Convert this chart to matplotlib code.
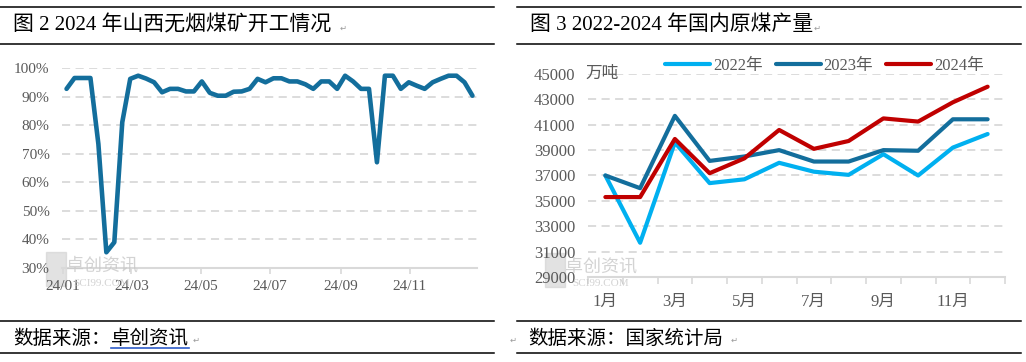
import numpy as np
import pandas as pd
import matplotlib.pyplot as plt
from matplotlib.lines import Line2D

plt.rcParams['font.family'] = ['Liberation Serif', 'Noto Sans CJK SC', 'DejaVu Sans']

W, H = 1026, 362

# --- 图2: 2024 山西无烟煤矿开工率 (weekly, %) ---
week_start = '2024-01-04'
rate = [92.7, 96.5, 96.5, 96.5, 73.4, 35.5, 39.0, 81.0, 96.2, 97.3,
        96.3, 95.0, 91.5, 92.7, 92.7, 91.8, 91.8, 95.3, 91.3, 90.3,
        90.3, 91.7, 91.8, 92.7, 96.2, 95.0, 96.4, 96.4, 95.3, 95.3,
        94.3, 92.7, 95.3, 95.3, 92.7, 97.3, 95.3, 92.7, 92.7, 67.0,
        97.3, 97.3, 92.7, 95.0, 93.8, 92.7, 95.0, 96.2, 97.3, 97.3,
        95.0, 90.3]
date_ticks = ['2024-01-01', '2024-03-01', '2024-05-01', '2024-07-01', '2024-09-01', '2024-11-01']
date_labels = ['24/01', '24/03', '24/05', '24/07', '24/09', '24/11']
rate_ticks = [30, 40, 50, 60, 70, 80, 90, 100]

# --- 图3: 2022-2024 国内原煤产量 (万吨) ---
months = list(range(1, 13))
month_labels = ['1月', '3月', '5月', '7月', '9月', '11月']
out_2022 = [37000, 31700, 39600, 36400, 36700, 38000, 37300, 37050, 38680, 37000, 39200, 40270]
out_2023 = [37000, 36000, 41700, 38150, 38500, 39000, 38100, 38100, 39000, 38950, 41430, 41430]
out_2024 = [35300, 35300, 39880, 37180, 38350, 40590, 39100, 39720, 41500, 41250, 42770, 44000]
out_ticks = list(range(29000, 45001, 2000))

dark_blue = '#136E9C'
light_blue = '#00B0F0'
red = '#C00000'
grid_c = '#D9D9D9'
tick_c = '#595959'


def fx(px):
    return px / W


def fy(py):
    return 1 - py / H


fig = plt.figure(figsize=(W / 100, H / 100), dpi=100)

# horizontal rules of the word document
for x0, x1 in [(0, 494), (517, 1021)]:
    for yy in [7, 44, 321, 353]:
        fig.add_artist(Line2D([fx(x0), fx(x1)], [fy(yy), fy(yy)], color='black', lw=1.1))

fig.text(fx(13), fy(25), '图 2 2024 年山西无烟煤矿开工情况', fontsize=15, va='center', ha='left',
         weight='medium')
fig.text(fx(530), fy(25), '图 3 2022-2024 年国内原煤产量', fontsize=15, va='center', ha='left',
         weight='medium')
src_head = fig.text(fx(13), fy(339), '数据来源：', fontsize=14, va='center', ha='left', weight='light')
fig.text(fx(528), fy(339), '数据来源：国家统计局', fontsize=14, va='center', ha='left', weight='light')

# place the linked part right after the head and underline it
fig.canvas.draw()
bb = src_head.get_window_extent()
src_link = fig.text(bb.x1 / W, fy(339), '卓创资讯', fontsize=14, va='center', ha='left', weight='light')
fig.canvas.draw()
bl = src_link.get_window_extent()
fig.add_artist(Line2D([bl.x0 / W, bl.x1 / W], [fy(347.5), fy(347.5)], color='#2F5CC8', lw=1.2))

for px, py in [(340, 28), (814, 28), (193, 340), (731, 340), (510, 340)]:
    fig.text(fx(px), fy(py), '↵', fontsize=6, color='#9A9A9A', family='DejaVu Sans', va='center')


def watermark(cx, cy):
    fig.text(fx(cx), fy(cy), '卓创资讯', fontsize=13, color='#C8C8C8', ha='center', va='center',
             alpha=0.8, zorder=0)
    fig.text(fx(cx), fy(cy + 17), 'SCI99.COM', fontsize=8, color='#C8C8C8', ha='center', va='center',
             alpha=0.8, zorder=0)
    fig.add_artist(plt.Rectangle((fx(cx - 56), fy(cy + 20)), fx(20), 34 / H,
                                 color='#D0D0D0', alpha=0.6, zorder=0))


# ---------- left chart ----------
ax1 = fig.add_axes([fx(62), fy(268), fx(415), 200 / H])
ax1.patch.set_alpha(0)
dates = pd.date_range(week_start, periods=len(rate), freq='7D')
ax1.plot(dates, rate, color=dark_blue, lw=3.3, solid_joinstyle='round', solid_capstyle='round', zorder=3)
ax1.set_ylim(30, 100)
ax1.set_xlim(pd.Timestamp('2023-12-31'), pd.Timestamp('2024-12-30'))
ax1.set_yticks(rate_ticks)
ax1.set_yticklabels([f'{v}%' for v in rate_ticks])
ax1.set_xticks(pd.to_datetime(date_ticks))
ax1.set_xticklabels(date_labels)

# ---------- right chart ----------
ax2 = fig.add_axes([fx(588), fy(277), fx(417), 203 / H])
ax2.patch.set_alpha(0)
ax2.plot(months, out_2022, color=light_blue, lw=3.0, label='2022年', solid_joinstyle='round', solid_capstyle='round')
ax2.plot(months, out_2023, color=dark_blue, lw=3.0, label='2023年', solid_joinstyle='round', solid_capstyle='round')
ax2.plot(months, out_2024, color=red, lw=3.0, label='2024年', solid_joinstyle='round', solid_capstyle='round')
ax2.set_xlim(0.5, 12.5)
ax2.set_ylim(29000, 45000)
ax2.set_yticks(out_ticks)
ax2.set_xticks(months[::2])
ax2.set_xticklabels(month_labels)
ax2.set_xticks(np.arange(0.5, 12.6, 1), minor=True)
ax2.text(-0.005, 1.0, '万吨', transform=ax2.transAxes, fontsize=12, color=tick_c, ha='left', va='center')
leg = ax2.legend(loc='center', bbox_to_anchor=(0.567, 1.04), ncol=3, frameon=False, fontsize=12,
                 handlelength=2.7, handletextpad=0.15, columnspacing=0.8, labelcolor=tick_c,
                 borderaxespad=0, borderpad=0)

for ax in (ax1, ax2):
    for s in ('top', 'right', 'left'):
        ax.spines[s].set_visible(False)
    ax.spines['bottom'].set_color(grid_c)
    ax.spines['bottom'].set_linewidth(1.5)
    ax.yaxis.grid(True, color=grid_c, lw=1.3, linestyle=(0, (4.5, 3)))
    ax.set_axisbelow(True)
    ax.tick_params(axis='y', length=0, colors=tick_c)

ax1.tick_params(axis='y', labelsize=11, pad=9)
ax1.tick_params(axis='x', length=4, width=1.2, color=grid_c, labelcolor=tick_c, labelsize=11, pad=5)
ax2.tick_params(axis='y', labelsize=12, pad=9)
ax2.tick_params(axis='x', which='major', length=0, labelcolor=tick_c, labelsize=12, pad=12)
ax2.tick_params(axis='x', which='minor', length=5, width=1.2, color=grid_c)

watermark(102, 266)
watermark(601, 267)

fig.savefig('out.png', dpi=100)
